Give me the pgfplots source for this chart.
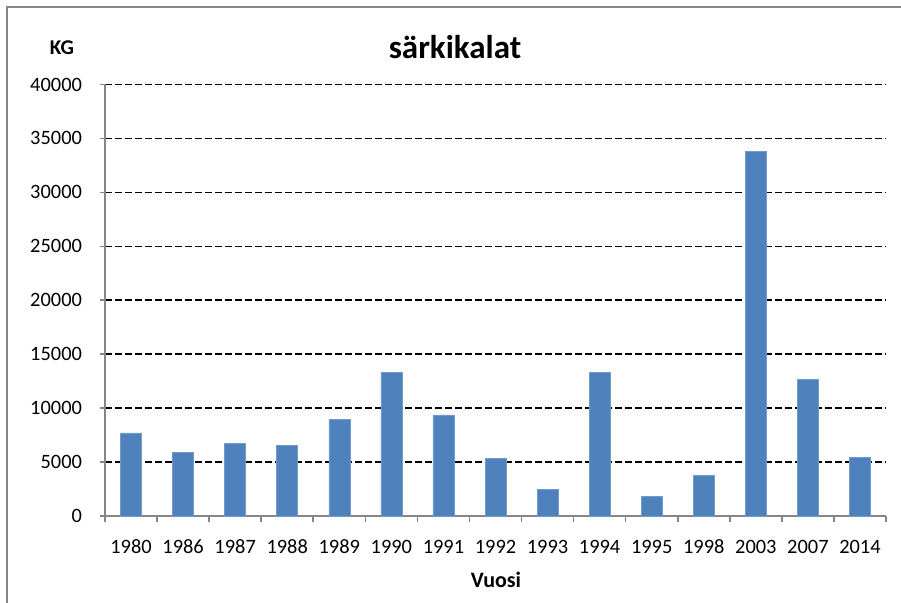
\documentclass[border=0pt]{standalone}
\usepackage{fontspec}
\setmainfont{Carlito}
\usepackage{pgfplots}
\pgfplotsset{compat=1.18}
\definecolor{barblue}{RGB}{79,129,189}
\definecolor{axgray}{RGB}{134,134,134}
\begin{document}
\begin{tikzpicture}
\useasboundingbox (-52.5pt,-43.5pt) rectangle (398pt,258pt);
\draw[axgray,line width=0.9pt] (-49pt,-60pt) -- (-49pt,254.5pt) -- (420pt,254.5pt);
\begin{axis}[
  at={(0,0)}, anchor=south west,
  scale only axis,
  width=390.5pt, height=215.75pt,
  xmin=-0.5, xmax=14.5,
  ymin=0, ymax=40000,
  axis x line*=bottom, axis y line*=left,
  axis line style={axgray, line width=0.8pt},
  xtick={0,...,14},
  xticklabels={1980,1986,1987,1988,1989,1990,1991,1992,1993,1994,1995,1998,2003,2007,2014},
  minor xtick={-0.5,0.5,...,14.5},
  major x tick style={draw=none},
  minor x tick style={axgray, line width=0.8pt},
  minor tick length=3pt,
  ytick={0,5000,...,40000},
  y tick style={axgray, line width=0.8pt},
  major tick length=2.5pt,
  tick align=outside,
  ymajorgrids,
  major grid style={black, line width=0.8pt, dash pattern=on 3.3pt off 1.7pt},
  yticklabel style={/pgf/number format/1000 sep={}, /pgf/number format/assume math mode=true, font=\fontsize{10.2}{12}\selectfont, xshift=-5.5pt},
  xticklabel style={font=\fontsize{10.2}{12}\selectfont, yshift=-6pt},
  scaled y ticks=false,
  clip=false,
]
\addplot[ybar, bar width=10.5pt, fill=barblue, draw=barblue!80!white, line width=0.3pt] coordinates {
 (0,7700) (1,5860) (2,6730) (3,6570) (4,8970) (5,13340) (6,9370)
 (7,5330) (8,2490) (9,13340) (10,1780) (11,3770) (12,33800) (13,12650) (14,5450)
};
\end{axis}
\node[font=\bfseries\fontsize{16.5}{19}\selectfont] at (175pt,234.5pt) {särkikalat};
\node[font=\bfseries\fontsize{10.5}{12}\selectfont] at (-21.5pt,234pt) {KG};
\node[font=\bfseries\fontsize{11}{13}\selectfont] at (195.5pt,-32pt) {Vuosi};
\end{tikzpicture}
\end{document}
